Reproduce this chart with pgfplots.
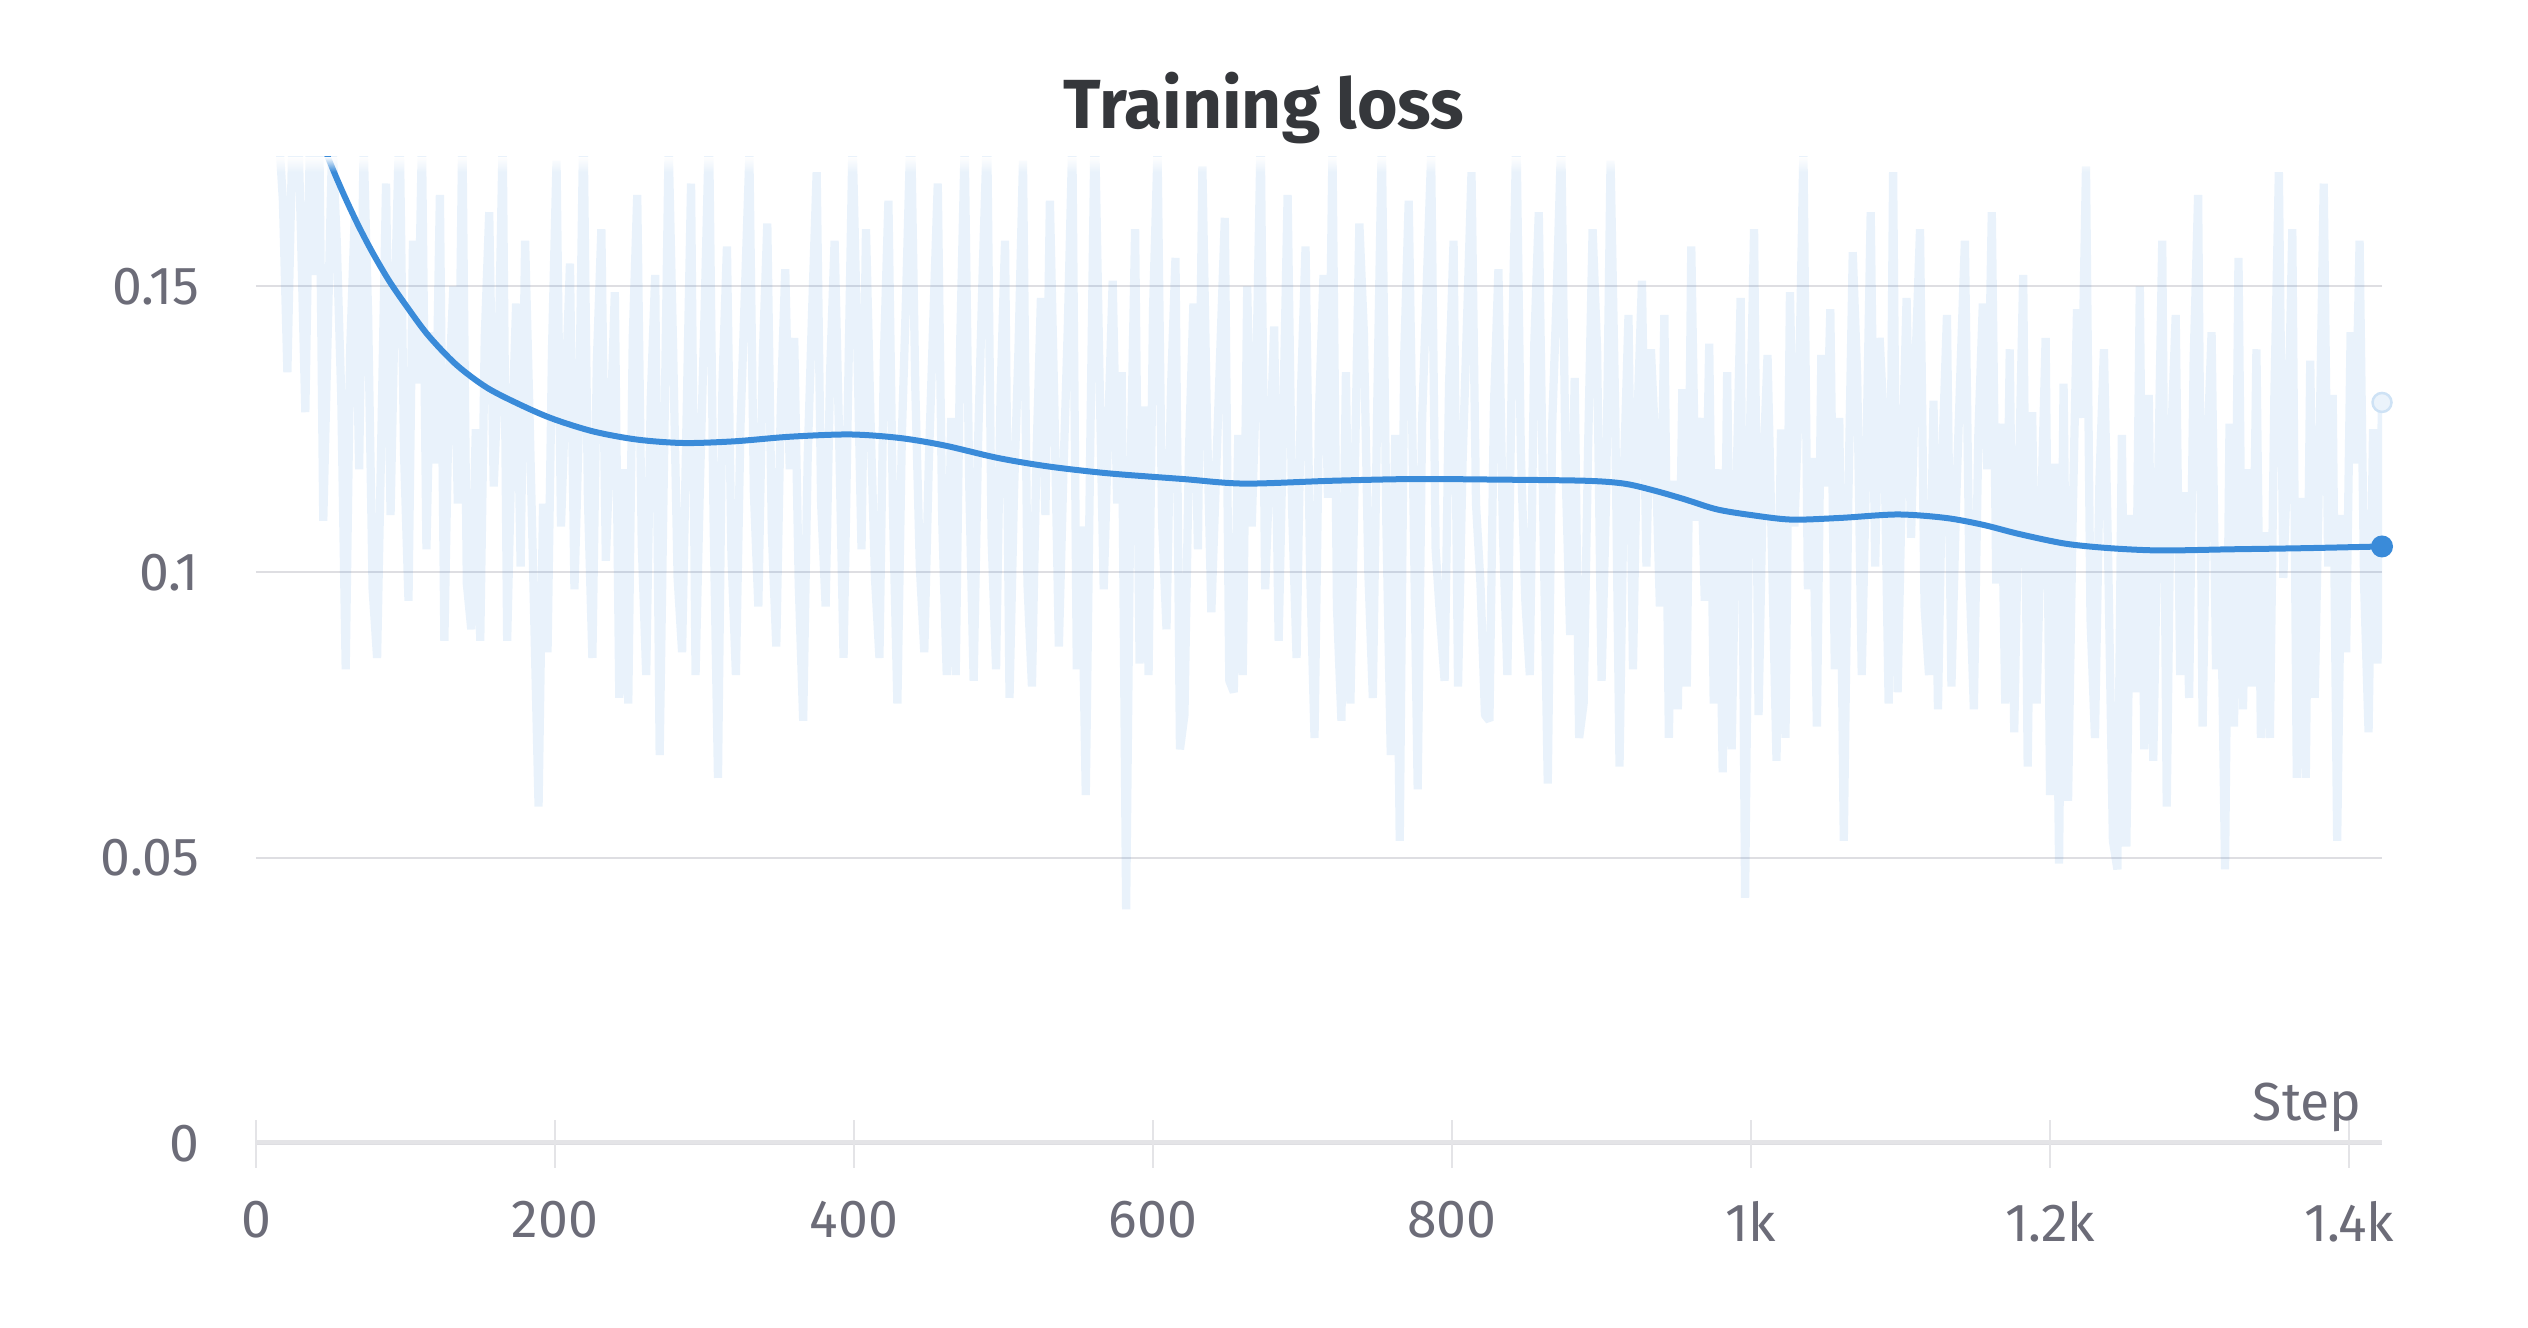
\documentclass[border=0pt]{standalone}
\usepackage{fontspec}
\setmainfont{Fira Sans}
\usepackage{pgfplots}
\pgfplotsset{compat=1.18}
\usetikzlibrary{fadings}
\definecolor{wbblue}{RGB}{58,139,217}
\definecolor{wbgray}{RGB}{108,108,120}
\definecolor{wbaxis}{RGB}{228,228,231}
\definecolor{wbgrid}{RGB}{222,222,226}
\definecolor{wbtitle}{RGB}{53,55,59}
\tikzfading[name=topfade, top color=transparent!0, bottom color=transparent!100]
\newcommand{\tickfont}{\fontsize{10.7bp}{12bp}\selectfont}
\begin{document}
\begin{tikzpicture}
\begin{axis}[
 at={(0,0)}, anchor=south west,
 scale only axis, width=425.2bp, height=197.4bp,
 xmin=0, xmax=1422, ymin=0, ymax=0.1727,
 enlargelimits=false,
 axis line style={draw=none},
 xtick={0,200,400,600,800,1000,1200,1400},
 xticklabels={0,200,400,600,800,1k,1.2k,1.4k},
 ytick={0,0.05,0.1,0.15},
 yticklabels={0,0.05,0.1,0.15},
 xtick pos=bottom, ytick pos=left,
 tick align=center,
 major tick length=9.6bp,
 x tick style={draw=wbaxis, line width=0.5bp},
 y tick style={draw=none},
 ymajorgrids, grid style={draw=wbgrid, line width=0.4bp},
 ticklabel style={font=\tickfont, text=wbgray},
 xticklabel style={anchor=north, inner sep=0pt, yshift=-6.5bp},
 yticklabel style={anchor=east, inner sep=0pt, xshift=-6.4bp},
 /pgf/number format/assume math mode=true,
]
\addplot[draw=wbblue, draw opacity=0.11, line width=1.65bp, line join=bevel] coordinates {
(15,0.178) (18,0.165) (21,0.135) (24,0.172) (27,0.190) (30,0.160) (33,0.128) (36,0.175) (39,0.152) (42,0.185)
(45,0.109) (48,0.142) (51,0.176) (54,0.158) (57,0.131) (60,0.083) (63,0.139) (66,0.162) (69,0.118) (72,0.175)
(75,0.145) (78,0.097) (81,0.085) (84,0.126) (87,0.168) (90,0.110) (93,0.149) (96,0.180) (99,0.121) (102,0.095)
(105,0.158) (108,0.133) (111,0.176) (114,0.104) (117,0.142) (120,0.119) (123,0.166) (126,0.088) (129,0.131) (132,0.150)
(135,0.112) (138,0.178) (141,0.098) (144,0.090) (147,0.125) (150,0.088) (153,0.141) (156,0.163) (159,0.115) (162,0.134)
(165,0.176) (168,0.088) (171,0.122) (174,0.147) (177,0.101) (180,0.158) (183,0.127) (186,0.093) (189,0.059) (192,0.112)
(195,0.086) (198,0.139) (201,0.172) (204,0.108) (207,0.131) (210,0.154) (213,0.097) (216,0.126) (219,0.180) (222,0.113)
(225,0.085) (228,0.137) (231,0.160) (234,0.102) (237,0.124) (240,0.149) (243,0.078) (246,0.118) (249,0.077) (252,0.141)
(255,0.166) (258,0.105) (261,0.082) (264,0.130) (267,0.152) (270,0.068) (273,0.121) (276,0.175) (279,0.139) (282,0.099)
(285,0.086) (288,0.127) (291,0.168) (294,0.082) (297,0.116) (300,0.145) (303,0.178) (306,0.110) (309,0.064) (312,0.133)
(315,0.157) (318,0.103) (321,0.082) (324,0.125) (327,0.149) (330,0.173) (333,0.114) (336,0.094) (339,0.138) (342,0.161)
(345,0.107) (348,0.087) (351,0.129) (354,0.153) (357,0.118) (360,0.141) (363,0.098) (366,0.074) (369,0.120) (372,0.146)
(375,0.170) (378,0.112) (381,0.094) (384,0.135) (387,0.158) (390,0.124) (393,0.085) (396,0.131) (399,0.176) (402,0.142)
(405,0.104) (408,0.160) (411,0.127) (414,0.099) (417,0.085) (420,0.138) (423,0.165) (426,0.111) (429,0.077) (432,0.124)
(435,0.150) (438,0.180) (441,0.132) (444,0.101) (447,0.086) (450,0.119) (453,0.144) (456,0.168) (459,0.109) (462,0.082)
(465,0.127) (468,0.082) (471,0.140) (474,0.175) (477,0.116) (480,0.081) (483,0.123) (486,0.152) (489,0.178) (492,0.106)
(495,0.083) (498,0.131) (501,0.158) (504,0.078) (507,0.114) (510,0.139) (513,0.172) (516,0.098) (519,0.080) (522,0.120)
(525,0.148) (528,0.110) (531,0.165) (534,0.129) (537,0.087) (540,0.117) (543,0.143) (546,0.176) (549,0.083) (552,0.108)
(555,0.061) (558,0.122) (561,0.180) (564,0.137) (567,0.097) (570,0.125) (573,0.151) (576,0.112) (579,0.135) (582,0.041)
(585,0.118) (588,0.160) (591,0.084) (594,0.129) (597,0.082) (600,0.146) (603,0.174) (606,0.109) (609,0.090) (612,0.132)
(615,0.155) (618,0.069) (621,0.075) (624,0.121) (627,0.147) (630,0.104) (633,0.171) (636,0.127) (639,0.093) (642,0.116)
(645,0.139) (648,0.162) (651,0.081) (654,0.079) (657,0.124) (660,0.082) (663,0.150) (666,0.108) (669,0.134) (672,0.177)
(675,0.097) (678,0.119) (681,0.143) (684,0.088) (687,0.126) (690,0.166) (693,0.111) (696,0.085) (699,0.132) (702,0.157)
(705,0.101) (708,0.071) (711,0.128) (714,0.152) (717,0.113) (720,0.174) (723,0.094) (726,0.074) (729,0.135) (732,0.077)
(735,0.118) (738,0.161) (741,0.142) (744,0.100) (747,0.078) (750,0.130) (753,0.176) (756,0.109) (759,0.068) (762,0.124)
(765,0.053) (768,0.138) (771,0.165) (774,0.115) (777,0.062) (780,0.127) (783,0.150) (786,0.173) (789,0.104) (792,0.092)
(795,0.081) (798,0.133) (801,0.158) (804,0.080) (807,0.119) (810,0.144) (813,0.170) (816,0.112) (819,0.098) (822,0.075)
(825,0.074) (828,0.129) (831,0.153) (834,0.107) (837,0.082) (840,0.136) (843,0.178) (846,0.121) (849,0.095) (852,0.082)
(855,0.140) (858,0.163) (861,0.110) (864,0.063) (867,0.126) (870,0.149) (873,0.176) (876,0.117) (879,0.089) (882,0.134)
(885,0.071) (888,0.077) (891,0.122) (894,0.160) (897,0.139) (900,0.081) (903,0.113) (906,0.172) (909,0.130) (912,0.066)
(915,0.118) (918,0.145) (921,0.083) (924,0.127) (927,0.151) (930,0.101) (933,0.139) (936,0.122) (939,0.094) (942,0.145)
(945,0.071) (948,0.116) (951,0.076) (954,0.132) (957,0.080) (960,0.157) (963,0.109) (966,0.127) (969,0.095) (972,0.140)
(975,0.077) (978,0.118) (981,0.065) (984,0.135) (987,0.069) (990,0.112) (993,0.148) (996,0.043) (999,0.121) (1002,0.160)
(1005,0.075) (1008,0.117) (1011,0.138) (1014,0.103) (1017,0.067) (1020,0.125) (1023,0.071) (1026,0.149) (1029,0.108) (1032,0.131)
(1035,0.174) (1038,0.097) (1041,0.120) (1044,0.073) (1047,0.138) (1050,0.115) (1053,0.146) (1056,0.083) (1059,0.127) (1062,0.053)
(1065,0.112) (1068,0.156) (1071,0.134) (1074,0.082) (1077,0.119) (1080,0.163) (1083,0.101) (1086,0.141) (1089,0.125) (1092,0.077)
(1095,0.170) (1098,0.079) (1101,0.117) (1104,0.148) (1107,0.106) (1110,0.137) (1113,0.160) (1116,0.094) (1119,0.082) (1122,0.130)
(1125,0.076) (1128,0.121) (1131,0.145) (1134,0.080) (1137,0.111) (1140,0.135) (1143,0.158) (1146,0.100) (1149,0.076) (1152,0.124)
(1155,0.147) (1158,0.118) (1161,0.163) (1164,0.098) (1167,0.126) (1170,0.077) (1173,0.139) (1176,0.072) (1179,0.115) (1182,0.152)
(1185,0.066) (1188,0.128) (1191,0.077) (1194,0.110) (1197,0.141) (1200,0.061) (1203,0.119) (1206,0.049) (1209,0.133) (1212,0.060)
(1215,0.108) (1218,0.146) (1221,0.127) (1224,0.171) (1227,0.092) (1230,0.071) (1233,0.116) (1236,0.139) (1239,0.100) (1242,0.053)
(1245,0.048) (1248,0.124) (1251,0.052) (1254,0.110) (1257,0.079) (1260,0.150) (1263,0.069) (1266,0.131) (1269,0.067) (1272,0.112)
(1275,0.158) (1278,0.059) (1281,0.123) (1284,0.145) (1287,0.082) (1290,0.114) (1293,0.078) (1296,0.137) (1299,0.166) (1302,0.073)
(1305,0.120) (1308,0.142) (1311,0.083) (1314,0.104) (1317,0.048) (1320,0.126) (1323,0.073) (1326,0.155) (1329,0.076) (1332,0.118)
(1335,0.080) (1338,0.139) (1341,0.071) (1344,0.107) (1347,0.071) (1350,0.131) (1353,0.170) (1356,0.099) (1359,0.122) (1362,0.160)
(1365,0.064) (1368,0.113) (1371,0.064) (1374,0.137) (1377,0.078) (1380,0.119) (1383,0.168) (1386,0.101) (1389,0.131) (1392,0.053)
(1395,0.110) (1398,0.086) (1401,0.142) (1404,0.119) (1407,0.158) (1410,0.098) (1413,0.072) (1416,0.125) (1419,0.084) (1422,0.130)
};
\addplot[wbblue, line width=1.2bp, smooth] coordinates {
(15,0.197) (30,0.185) (48,0.1727) (58,0.1665) (68,0.1609) (78,0.1559) (89,0.1510) (100,0.1468) (115,0.1415) (134,0.1363)
(155,0.1322) (180,0.1289) (200,0.1267) (226,0.1246) (255,0.1232) (286,0.1226) (320,0.1229) (357,0.1237) (397,0.1241) (430,0.1235)
(460,0.1222) (496,0.1200) (530,0.1185) (570,0.1173) (620,0.1163) (661,0.1155) (720,0.1160) (774,0.1163) (830,0.1162) (889,0.1160)
(915,0.1155) (935,0.1143) (955,0.1128) (977,0.1110) (1000,0.1100) (1027,0.1092) (1060,0.1095) (1098,0.1101) (1130,0.1095) (1155,0.1083)
(1179,0.1067) (1210,0.1050) (1240,0.1042) (1274,0.1038) (1320,0.1040) (1370,0.1042) (1422,0.1045)
};
\fill[white, path fading=topfade] (axis cs:0,0.1727) rectangle ([yshift=-3bp]axis cs:1422,0.1727);
\draw[wbaxis, line width=1.54bp] (axis cs:0,0) -- (axis cs:1422,0);
\addplot[only marks, mark=*, mark size=1.9bp, draw=wbblue!25, fill=wbblue!10, line width=0.5bp] coordinates {(1422,0.1297)};
\addplot[only marks, mark=*, mark size=2bp, draw=wbblue, fill=wbblue] coordinates {(1422,0.1045)};
\node[anchor=base east, font=\tickfont, text=wbgray, inner sep=0pt] at ([yshift=4.7bp]axis cs:1409,0) {Step};
\end{axis}
\node[anchor=base, font=\fontsize{13.9bp}{16bp}\selectfont\bfseries, text=wbtitle, inner sep=0pt] at (201.6bp,203.1bp) {Training loss};
\path[use as bounding box] (-51.2bp,-36.86bp) rectangle (454.4bp,228.74bp);
\end{tikzpicture}
\end{document}
